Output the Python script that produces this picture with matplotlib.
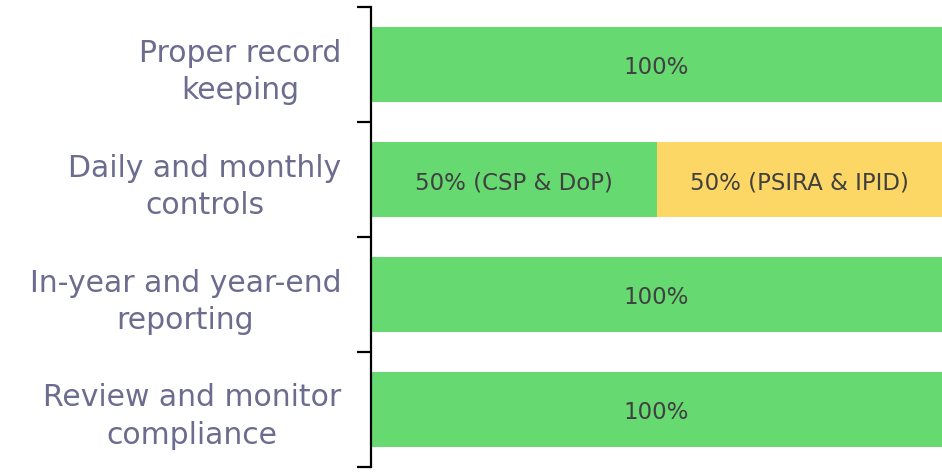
import matplotlib
matplotlib.use("Agg")
import matplotlib.pyplot as plt
from matplotlib.ticker import FixedLocator

categories = ["Proper record\nkeeping", "Daily and monthly\ncontrols",
              "In-year and year-end\nreporting", "Review and monitor\ncompliance"]
green_vals = [100, 50, 100, 100]
yellow_vals = [0, 50, 0, 0]
green_labels = ["100%", "50% (CSP & DoP)", "100%", "100%"]
yellow_labels = ["", "50% (PSIRA & IPID)", "", ""]

GREEN = "#66D971"
YELLOW = "#FDD765"
LABEL_COLOR = "#6C6C8E"
TEXT_COLOR = "#404040"

plt.rcParams['font.family'] = ['DejaVu Sans']

fig = plt.figure(figsize=(9.42, 4.72), dpi=100)
ax = fig.add_axes([371/942, 1 - 467/472, 1 - 371/942, (467 - 7)/472])

y = list(range(len(categories)))
h = 0.66
ax.barh(y, green_vals, height=h, color=GREEN, edgecolor='none')
ax.barh(y, yellow_vals, left=green_vals, height=h, color=YELLOW, edgecolor='none')

for i in y:
    if green_vals[i] > 0:
        ax.text(green_vals[i] / 2, i + 0.03, green_labels[i], ha='center', va='center',
                fontsize=16.5, color=TEXT_COLOR)
    if yellow_vals[i] > 0:
        ax.text(green_vals[i] + yellow_vals[i] / 2, i + 0.03, yellow_labels[i], ha='center',
                va='center', fontsize=16.5, color=TEXT_COLOR)

ax.set_xlim(0, 100)
ax.set_ylim(len(categories) - 0.5, -0.5)

ax.set_yticks(y)
ax.set_yticklabels(categories, fontsize=21.5, color=LABEL_COLOR, multialignment='center',
                   linespacing=1.38)
ax.tick_params(axis='y', which='major', length=0, pad=21.5)
ax.yaxis.set_minor_locator(FixedLocator([i - 0.5 for i in range(len(categories) + 1)]))
ax.tick_params(axis='y', which='minor', length=10, width=1.6, color='black')
ax.set_xticks([])

for s in ['top', 'right', 'bottom']:
    ax.spines[s].set_visible(False)
ax.spines['left'].set_linewidth(1.6)
ax.spines['left'].set_color('black')

fig.savefig("out.png", dpi=100)
